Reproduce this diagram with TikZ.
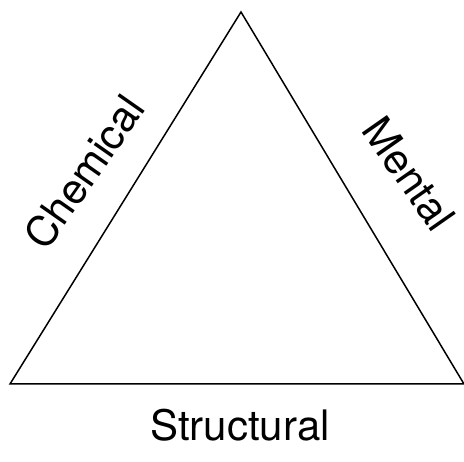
\documentclass[tikz,border=0pt]{standalone}
\usepackage{fontspec}
\setmainfont{TeX Gyre Heros}
\begin{document}
\begin{tikzpicture}[x=1pt,y=-1pt,
  lbl/.style={font=\fontsize{42}{48}\selectfont, inner sep=0pt, anchor=center},
  edge/.style={line width=1.5pt, line join=miter}]
\useasboundingbox (0,0) rectangle (464,462);
\coordinate (top) at (241,12);
\coordinate (bl) at (10,384);
\coordinate (br) at (464,384);
\draw[edge] (top) -- (bl) -- (br) -- cycle;
\node[lbl, rotate=55] (chem) at (84,172) {Chemical};
\node[lbl, rotate=-55] (ment) at (409,174) {Mental};
\node[lbl] (struct) at (240,425) {Structural};
\end{tikzpicture}
\end{document}
